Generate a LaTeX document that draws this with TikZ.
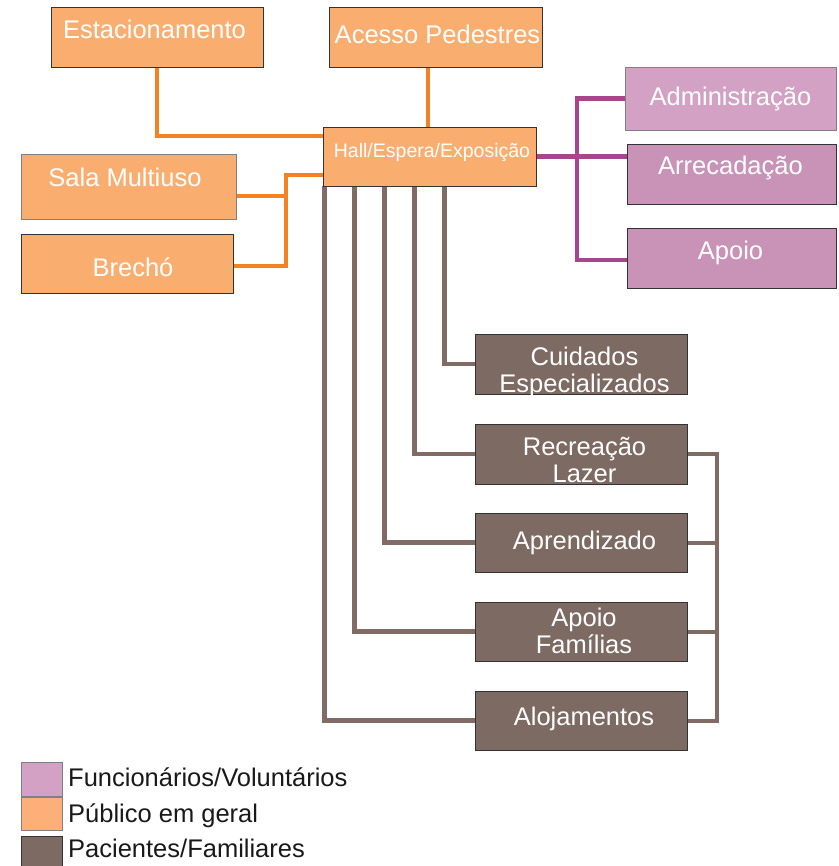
\documentclass[tikz,border=0pt]{standalone}
\usepackage{fontspec}
\setmainfont{Liberation Sans}
\usetikzlibrary{calc,backgrounds}
\definecolor{orfill}{HTML}{F9AE70}
\definecolor{orline}{HTML}{F58220}
\definecolor{pufillA}{HTML}{D3A1C3}
\definecolor{pufill}{HTML}{C993B8}
\definecolor{puline}{HTML}{A5478A}
\definecolor{brfill}{HTML}{7D6A62}
\definecolor{brline}{HTML}{806C64}
\definecolor{bordc}{HTML}{333333}
\definecolor{bordl}{HTML}{808080}
\definecolor{legor}{HTML}{FDAF7A}
\newcommand\bt[3]{\kern#1pt\kern#1pt\raisebox{-#2pt}{#3}}
\newcommand\tl[2]{\begin{tabular}[b]{@{}c@{}}#1\\#2\end{tabular}}
\begin{document}
\begin{tikzpicture}[x=1pt,y=-1pt,
  box/.style={draw=bordc, line width=0.9pt, inner sep=0pt, text height=0pt, text depth=0pt,
    text=white, font=\fontsize{25.5}{27}\selectfont, minimum width=212pt, minimum height=60pt},
  pub/.style={box, fill=orfill},
  staff/.style={box, fill=pufill, minimum width=209pt},
  pat/.style={box, fill=brfill},
  orw/.style={draw=orline, line width=4pt},
  puw/.style={draw=puline, line width=4.3pt},
  brw/.style={draw=brline, line width=4.8pt},
  brb/.style={draw=brline, line width=4pt},
  legsq/.style={draw=bordl, line width=0.9pt, minimum width=41pt, minimum height=34pt, inner sep=0pt},
  legtx/.style={anchor=base west, inner sep=0pt, text=black!90, font=\fontsize{25.5}{27}\selectfont}]
\useasboundingbox (0,0) rectangle (838,866);

% Public boxes
\node[pub] (est) at (157,37) {\bt{-2.5}{2}{Estacionamento}};
\node[pub, minimum width=213pt] (acc) at (435.5,37) {\bt{2}{7}{Acesso Pedestres}};
\node[pub, minimum width=213pt, minimum height=59pt, font=\fontsize{19.5}{21}\selectfont] (hall) at (429.5,156.5) {\bt{2.5}{1}{Hall/Espera/Exposição}};
\node[pub, draw=bordl, minimum width=215pt, minimum height=65pt] (sala) at (128.5,186.5) {\bt{-3.5}{0}{Sala Multiuso}};
\node[pub, minimum height=59pt] (bre) at (127,263.5) {\bt{6}{13}{Brechó}};

% Staff boxes
\node[staff, fill=pufillA, draw=bordl, minimum width=211pt, minimum height=63pt] (adm) at (730.5,98.5) {\bt{0}{7.5}{Administração}};
\node[staff] (arr) at (731.5,174) {\bt{-1}{1}{Arrecadação}};
\node[staff] (apo) at (731.5,258) {\bt{-1}{2}{Apoio}};

% Patient boxes
\node[pat] (cui) at (581,364) {\bt{3.5}{28}{\tl{Cuidados}{Especializados}}};
\node[pat] (rec) at (581,454) {\bt{3.5}{28}{\tl{Recreação}{Lazer}}};
\node[pat, minimum height=59pt] (apr) at (581,542.5) {\bt{3.5}{6.5}{Aprendizado}};
\node[pat, minimum height=59pt] (apf) at (581,631.5) {\bt{3}{21.5}{\tl{Apoio}{Famílias}}};
\node[pat, minimum height=59pt] (alo) at (581,720.5) {\bt{3}{5}{Alojamentos}};

\coordinate (oj) at (286,200);
\coordinate (pj) at (577,157);
\coordinate (bj) at (717,600);

\begin{scope}[on background layer]
  \fill[white] (0,0) rectangle (838,866);
  % orange connectors
  \draw[orw] (est.south) |- ($(hall.north west)!0.153!(hall.south west)$);
  \draw[orw] ([xshift=-8pt]acc.south) -- ([xshift=-8pt]acc.south |- hall.north);
  \draw[orw] ([yshift=-18.5pt]hall.west) -| (oj) |- ([yshift=-2.5pt]bre.east);
  \draw[orw] ([yshift=-9.5pt]sala.east) -- ([yshift=-9.5pt]sala.east -| oj);
  % purple connectors
  \draw[puw] (hall.east) -- (hall.east -| arr.west);
  \draw[puw] (adm.west) -| (pj) |- ([yshift=-2pt]apo.west);
  % brown connectors
  \draw[brw] ([xshift=122pt]hall.south west) |- (cui.west);
  \draw[brw] ([xshift=92pt]hall.south west) |- (rec.west);
  \draw[brw] ([xshift=62pt]hall.south west) |- (apr.west);
  \draw[brw] ([xshift=32pt]hall.south west) |- (apf.west);
  \draw[brw] ([xshift=2pt]hall.south west) |- (alo.west);
  \draw[brb] (rec.east) -| (bj) |- (alo.east);
  \draw[brb] (apr.east) -- (apr.east -| bj);
  \draw[brb] (apf.east) -- (apf.east -| bj);
\end{scope}

% legend
\node[legsq, fill=pufillA] (lgp) at (41.5,779) {};
\node[legsq, fill=legor, minimum height=33pt] (lgo) at (41.5,813.5) {};
\node[legsq, fill=brfill, draw=bordc] (lgb) at (41.5,853) {};
\node[legtx] (ltp) at (68,786.5) {Funcionários/Voluntários};
\node[legtx] (lto) at (68,822.5) {Público em geral};
\node[legtx] (ltb) at (68,857.5) {Pacientes/Familiares};
\end{tikzpicture}
\end{document}
